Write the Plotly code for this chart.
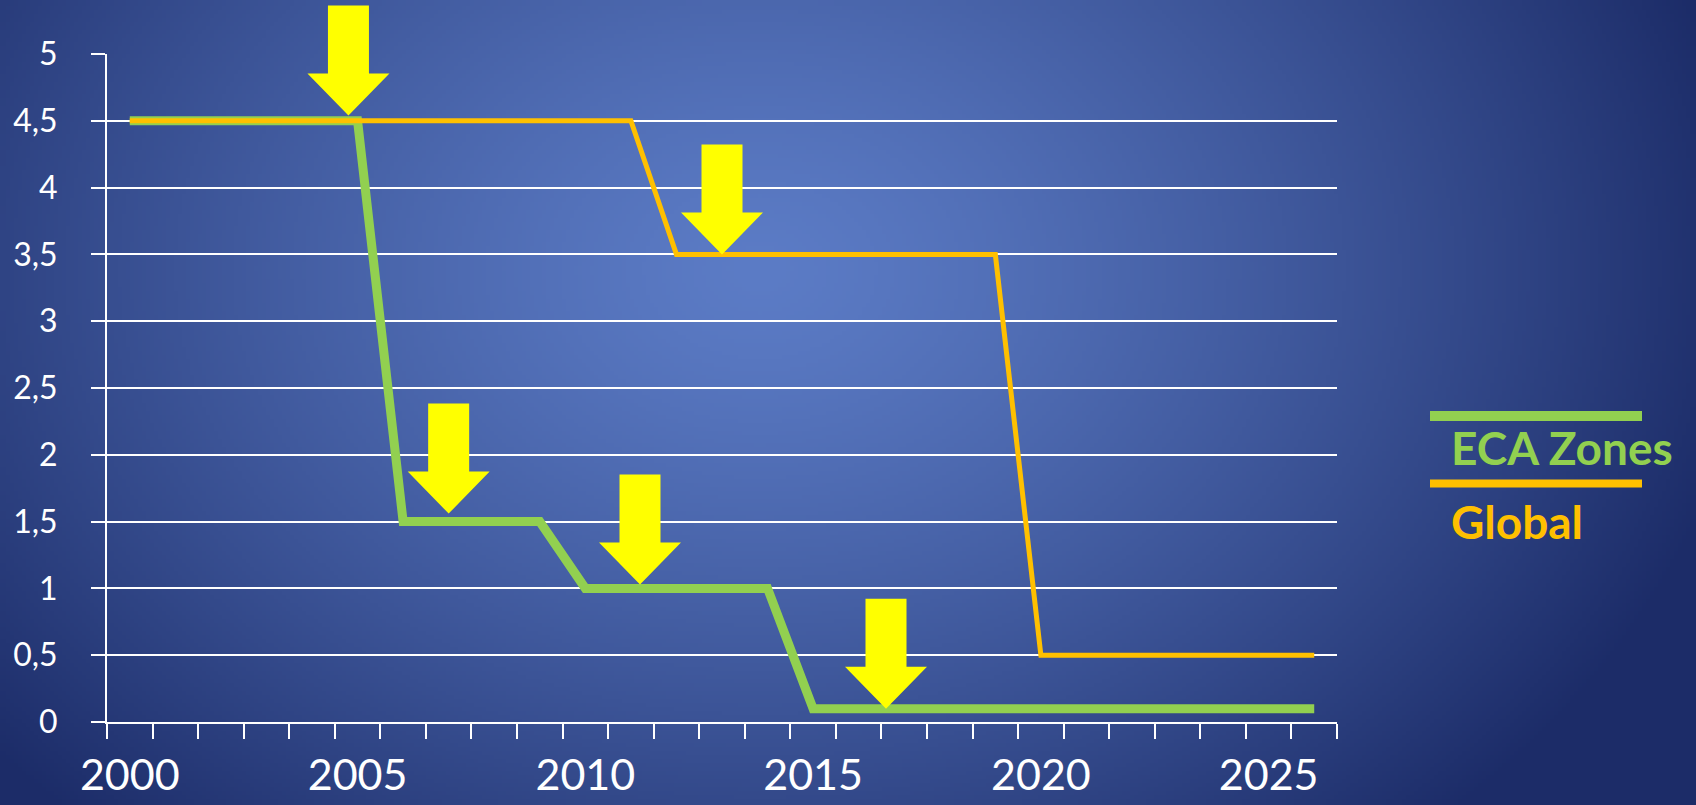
import base64
import struct
import zlib

import numpy as np
import plotly.graph_objects as go

# ---------------- data ----------------
years = list(range(2000, 2027))
eca_zones = [4.5, 4.5, 4.5, 4.5, 4.5, 4.5,
             1.5, 1.5, 1.5, 1.5,
             1.0, 1.0, 1.0, 1.0, 1.0,
             0.1, 0.1, 0.1, 0.1, 0.1, 0.1, 0.1, 0.1, 0.1, 0.1, 0.1, 0.1]
global_cap = [4.5] * 12 + [3.5] * 8 + [0.5] * 7
x_label_years = [2000, 2005, 2010, 2015, 2020, 2025]
# arrows pointing at the regulation steps (tip position in data units)
arrow_years = [2004.8, 2013.0, 2007.0, 2011.2, 2016.6]
arrow_levels = [4.54, 3.5, 1.56, 1.03, 0.1]
legend_names = ["ECA Zones", "Global"]

GREEN = "#92D050"
ORANGE = "#FFC000"
YELLOW = "#FFFF00"

X_RANGE = [1999.5, 2026.5]
Y_RANGE = [0, 5]

W, H = 1696, 805
L, R, T, B = 107, 359, 54, 83
PW, PH = W - L - R, H - T - B


# ---------------- background gradient as PNG ----------------
def make_png(arr):
    h, w, _ = arr.shape
    raw = b"".join(b"\x00" + arr[i].tobytes() for i in range(h))

    def chunk(tag, data):
        c = struct.pack(">I", len(data)) + tag + data
        return c + struct.pack(">I", zlib.crc32(tag + data) & 0xFFFFFFFF)

    return (b"\x89PNG\r\n\x1a\n"
            + chunk(b"IHDR", struct.pack(">IIBBBBB", w, h, 8, 2, 0, 0, 0))
            + chunk(b"IDAT", zlib.compress(raw, 9))
            + chunk(b"IEND", b""))


gw, gh = 424, 201
xs = (np.arange(gw) + 0.5) / gw * W
ys = (np.arange(gh) + 0.5) / gh * H
X, Y = np.meshgrid(xs, ys)
cx, cy = 760.0, 270.0
r = np.sqrt(((X - cx) / 1000.0) ** 2 + ((Y - cy) / 760.0) ** 2)
t = np.clip(r, 0, 1) ** 1.3
light = np.array([92, 124, 198], dtype=float)
dark = np.array([28, 44, 104], dtype=float)
img = (light[None, None, :] * (1 - t[..., None]) + dark[None, None, :] * t[..., None])
img = np.clip(img, 0, 255).astype(np.uint8)
bg_uri = "data:image/png;base64," + base64.b64encode(make_png(img)).decode()

# ---------------- figure ----------------
fig = go.Figure()
fig.add_trace(go.Scatter(x=years, y=eca_zones, mode="lines", name=legend_names[0],
                         line=dict(color=GREEN, width=9), showlegend=False))
fig.add_trace(go.Scatter(x=years, y=global_cap, mode="lines", name=legend_names[1],
                         line=dict(color=ORANGE, width=5), showlegend=False))


def data_to_paper_x(v):
    return (v - X_RANGE[0]) / (X_RANGE[1] - X_RANGE[0])


def data_to_paper_y(v):
    return (v - Y_RANGE[0]) / (Y_RANGE[1] - Y_RANGE[0])


arrow_path = ("M 0,0 L -41,42 L -20.5,42 L -20.5,110 L 20.5,110 "
              "L 20.5,42 L 41,42 Z")
shapes = []
for ax_, ay_ in zip(arrow_years, arrow_levels):
    shapes.append(dict(type="path", xref="paper", yref="paper",
                       xsizemode="pixel", ysizemode="pixel",
                       xanchor=data_to_paper_x(ax_), yanchor=data_to_paper_y(ay_),
                       path=arrow_path,
                       fillcolor=YELLOW, line=dict(width=0), layer="above"))


def px_x(p):
    return (p - L) / PW


def px_y(p):
    return (H - B - p) / PH


# custom legend
shapes.append(dict(type="line", xref="paper", yref="paper",
                   x0=px_x(1430), x1=px_x(1642), y0=px_y(416), y1=px_y(416),
                   line=dict(color=GREEN, width=10)))
shapes.append(dict(type="line", xref="paper", yref="paper",
                   x0=px_x(1430), x1=px_x(1642), y0=px_y(483.5), y1=px_y(483.5),
                   line=dict(color=ORANGE, width=8)))
annotations = [
    dict(text="<b>%s</b>" % legend_names[0], xref="paper", yref="paper",
         x=px_x(1449), y=px_y(448), xanchor="left", yanchor="middle",
         showarrow=False, font=dict(family="Lato", size=46, color=GREEN)),
    dict(text="<b>%s</b>" % legend_names[1], xref="paper", yref="paper",
         x=px_x(1449), y=px_y(521), xanchor="left", yanchor="middle",
         showarrow=False, font=dict(family="Lato", size=46, color=ORANGE)),
]

fig.update_layout(
    width=W, height=H,
    margin=dict(l=L, r=R, t=T, b=B, pad=0, autoexpand=False),
    paper_bgcolor="#22346F",
    plot_bgcolor="rgba(0,0,0,0)",
    separators=",.",
    showlegend=False,
    shapes=shapes,
    annotations=annotations,
    images=[dict(source=bg_uri, xref="paper", yref="paper",
                 x=-L / PW, y=1 + T / PH, sizex=W / PW, sizey=H / PH,
                 xanchor="left", yanchor="top", sizing="stretch",
                 layer="below")],
    font=dict(family="Lato", color="white"),
)

fig.update_xaxes(
    range=X_RANGE, automargin=False,
    tickmode="array", tickvals=x_label_years,
    ticks="", showgrid=False, zeroline=False,
    showline=True, linecolor="white", linewidth=2,
    tickfont=dict(family="Lato", size=43, color="white"),
    ticklabelstandoff=14,
    minor=dict(tickmode="array",
               tickvals=[y - 0.5 for y in years] + [years[-1] + 0.5],
               ticks="outside", ticklen=15, tickwidth=2, tickcolor="white",
               showgrid=False),
)
fig.update_yaxes(
    range=Y_RANGE, automargin=False, tick0=0, dtick=0.5,
    ticks="outside", ticklen=14, tickwidth=2, tickcolor="white",
    showgrid=True, gridcolor="white", gridwidth=2,
    zeroline=False,
    showline=True, linecolor="white", linewidth=2,
    tickfont=dict(family="Lato", size=32, color="white"),
    ticklabelstandoff=27,
)

fig.write_html("out.html", config={"displayModeBar": False},
               post_script="document.body.style.margin='0';"
                           "document.body.style.overflow='hidden';")
